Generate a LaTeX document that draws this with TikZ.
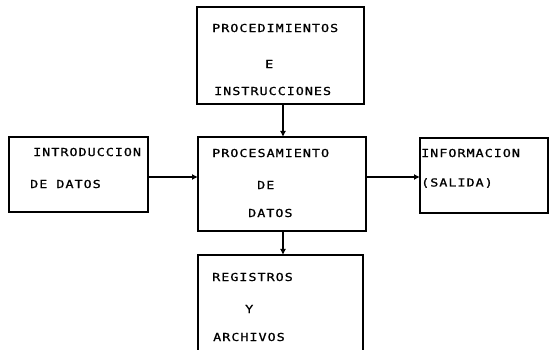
\documentclass[tikz,border=0pt]{standalone}
\usepackage{fontspec}
\newfontfamily\dotfont[FakeStretch=1.22,LetterSpace=9,FakeBold=1]{DejaVu Sans Mono}
\usetikzlibrary{arrows.meta,positioning}

\begin{document}
\begin{tikzpicture}[x=1pt,y=-1pt,
  caja/.style={draw, line width=1.3pt, outer sep=0pt, inner sep=0pt},
  txt/.style={anchor=west, inner sep=0pt, font=\dotfont\fontsize{11}{13}\selectfont},
  flujo/.style={line width=1.3pt, -{Latex[length=6pt,width=6pt]}}]
  \useasboundingbox (0,0) rectangle (550,350);
  % cajas
  \node[caja, minimum width=167pt, minimum height=97pt] (proc) at (280.5,55.5) {};
  \node[caja, minimum width=139pt, minimum height=75pt] (entrada) at (78.5,174.5) {};
  \node[caja, minimum width=168pt, minimum height=94pt] (centro) at (282,184) {};
  \node[caja, minimum width=128pt, minimum height=75pt] (salida) at (484,175.5) {};
  \node[caja, minimum width=165pt, minimum height=110pt] (regis) at (280.5,310) {};
  % textos
  \node[txt] (p1) at (212,28) {PROCEDIMIENTOS};
  \node[txt] (p2) at (265,64) {E};
  \node[txt] (p3) at (214,91) {INSTRUCCIONES};
  \node[txt] (e1) at (33,152) {INTRODUCCION};
  \node[txt] (e2) at (30,184) {DE DATOS};
  \node[txt] (c1) at (212,153) {PROCESAMIENTO};
  \node[txt] (c2) at (257,185) {DE};
  \node[txt] (c3) at (248,213) {DATOS};
  \node[txt] (s1) at (421,153) {INFORMACION};
  \node[txt] (s2) at (421,183) {(SALIDA)};
  \node[txt] (r1) at (212,277) {REGISTROS};
  \node[txt] (r2) at (245,309) {Y};
  \node[txt] (r3) at (213,337) {ARCHIVOS};
  % flechas
  \draw[flujo] ([xshift=2.5pt]proc.south) -- ([xshift=2.5pt]proc.south |- centro.north);
  \draw[flujo] ([yshift=-2.5pt]entrada.east) -- ([yshift=-2.5pt]entrada.east -| centro.west);
  \draw[flujo] ([yshift=-1.5pt]salida.west -| centro.east) -- ([yshift=-1.5pt]salida.west);
  \draw[flujo] ([xshift=1pt]centro.south) -- ([xshift=1pt]centro.south |- regis.north);
\end{tikzpicture}
\end{document}
